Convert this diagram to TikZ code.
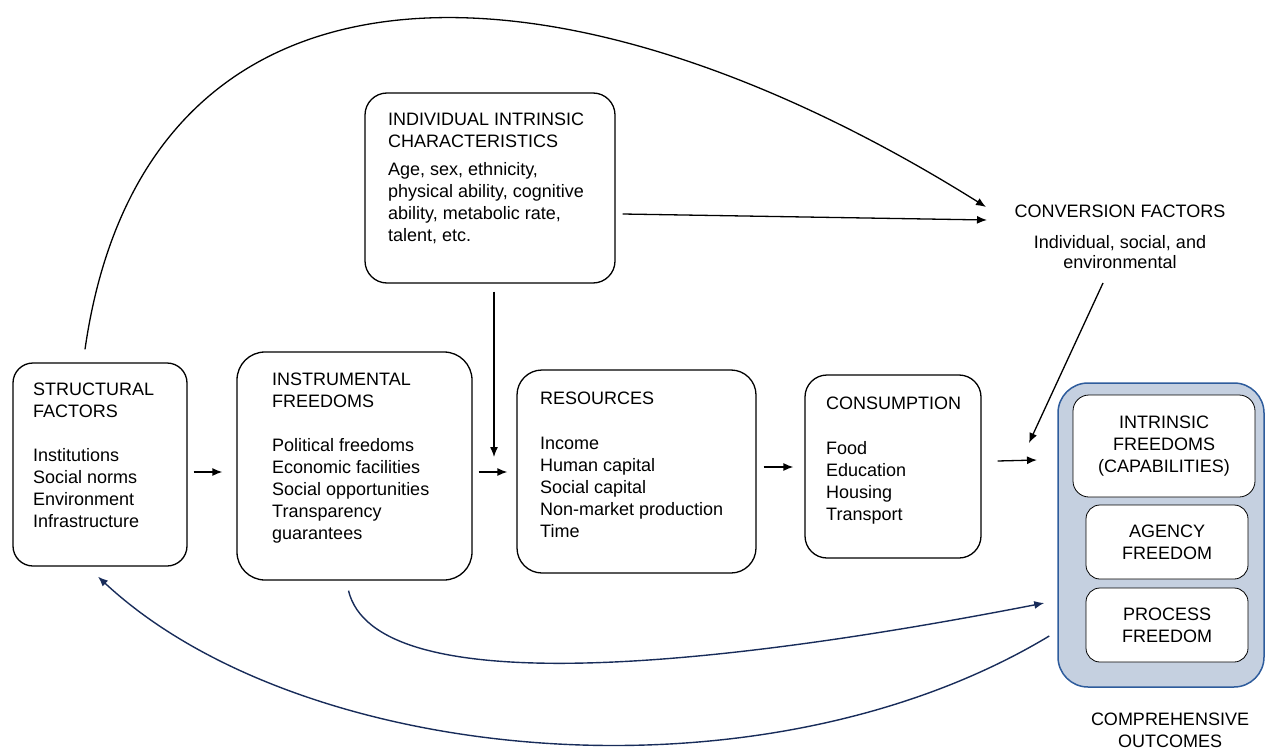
\documentclass[tikz,border=0pt]{standalone}
\usepackage{fontspec}
\setmainfont{Liberation Sans}
\usetikzlibrary{arrows.meta}
\definecolor{outfill}{RGB}{197,208,224}
\definecolor{outborder}{RGB}{46,92,156}
\definecolor{navy}{RGB}{24,44,90}
\begin{document}
\begin{tikzpicture}[x=1pt,y=-1pt,
  box/.style={draw=black, line width=1.3pt, fill=white, inner sep=0pt},
  txt/.style={inner sep=0pt, align=left, anchor=north west, font=\fontsize{18}{22}\selectfont},
  ctxt/.style={inner sep=0pt, align=center, font=\fontsize{18}{22}\selectfont},
  arr/.style={line width=1.3pt, -{Latex[length=10pt,width=8pt]}},
  barr/.style={draw=navy, line width=1.4pt, -{Latex[length=10pt,width=8pt]}}]
\useasboundingbox (0,0) rectangle (1266,749);

% boxes
\node[box, rounded corners=20pt, minimum width=174pt, minimum height=203pt] (sf) at (100,464.5) {};
\node[box, rounded corners=28pt, minimum width=235pt, minimum height=228pt] (inf) at (354.5,466) {};
\node[box, rounded corners=25pt, minimum width=239pt, minimum height=203pt] (res) at (636.5,471.5) {};
\node[box, rounded corners=22pt, minimum width=176pt, minimum height=183pt] (con) at (893,466.5) {};
\node[box, rounded corners=22pt, minimum width=250pt, minimum height=190pt] (ind) at (490,188) {};
\node[draw=outborder, fill=outfill, line width=1.5pt, rounded corners=30pt, inner sep=0pt,
      minimum width=206pt, minimum height=304pt] (out) at (1161,535) {};
\node[box, line width=0.8pt, rounded corners=16pt, minimum width=182pt, minimum height=102pt, ctxt] (intr) at (1164,446)
  {INTRINSIC\\FREEDOMS\\(CAPABILITIES)};
\node[box, line width=0.8pt, rounded corners=14pt, minimum width=162pt, minimum height=74pt, ctxt] (ag) at (1167,542)
  {AGENCY\\FREEDOM};
\node[box, line width=0.8pt, rounded corners=14pt, minimum width=162pt, minimum height=74pt, ctxt] (pr) at (1167,625)
  {PROCESS\\FREEDOM};

% texts
\node[txt] (sft) at (33,383) {STRUCTURAL\\FACTORS\\[22pt]Institutions\\Social norms\\Environment\\Infrastructure};
\node[txt] (inft) at (272,373) {INSTRUMENTAL\\FREEDOMS\\[22pt]Political freedoms\\Economic facilities\\Social opportunities\\Transparency\\guarantees};
\node[txt] (rest) at (540,392) {RESOURCES\\[23pt]Income\\Human capital\\Social capital\\Non-market production\\Time};
\node[txt] (cont) at (826,397) {CONSUMPTION\\[23pt]Food\\Education\\Housing\\Transport};
\node[txt] (indt) at (388,113) {INDIVIDUAL INTRINSIC\\CHARACTERISTICS\\[6pt]Age, sex, ethnicity,\\physical ability, cognitive\\ability, metabolic rate,\\talent, etc.};
\node[ctxt, anchor=north, font=\fontsize{18}{20}\selectfont] (conv) at (1120,205)
  {CONVERSION FACTORS\\[11pt]Individual, social, and\\environmental};
\node[ctxt, anchor=north] (comp) at (1170,713) {COMPREHENSIVE\\OUTCOMES};

% free ends
\coordinate (j1) at (494,457);
\coordinate (j2) at (1037,460);
\coordinate (cv1) at (986,207);
\coordinate (cv2) at (987,220);
\coordinate (cvs) at (1103,283);
\coordinate (j3) at (1029,443);

% straight arrows
\draw[arr] ([shift={(6,7.5)}]sf.east) -- ([shift={(-14,6)}]inf.west);
\draw[arr] ([shift={(6,6)}]inf.east) -- ([shift={(-9,0.5)}]res.west);
\draw[arr] ([shift={(4,8)}]ind.south) -- (j1);
\draw[arr] ([shift={(7,-4.5)}]res.east) -- ([shift={(-11,0.5)}]con.west);
\draw[arr] ([shift={(16,-5.5)}]con.east) -- (j2);
\draw[arr] ([shift={(7,26)}]ind.east) -- (cv2);
\draw[arr] (cvs) -- (j3);

% big arc
\draw[arr] ([shift={(-15,-13)}]sf.north) .. controls (145,-70) and (560,-60) .. (cv1);

% blue curves
\draw[barr] ([shift={(-6,10)}]inf.south) .. controls (375,700) and (700,670) .. ([shift={(-13,68)}]out.west);
\draw[barr] ([shift={(-8,101)}]out.west) .. controls (760,810) and (300,765) .. ([shift={(-2,10)}]sf.south);
\end{tikzpicture}
\end{document}
